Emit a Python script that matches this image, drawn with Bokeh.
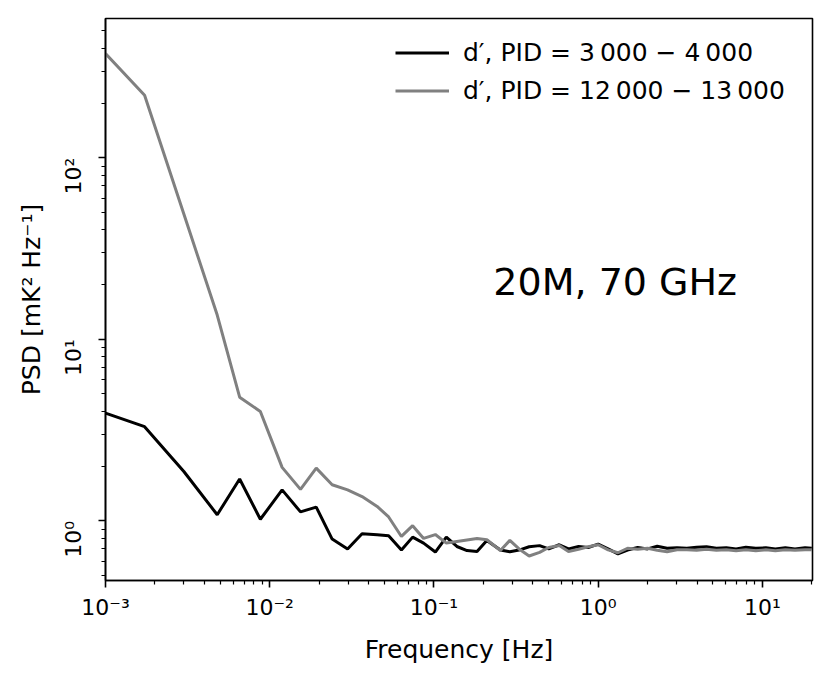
import math
from bokeh.plotting import figure
from bokeh.models import Range1d, FixedTicker, Legend, LegendItem, Label
from bokeh.embed import file_html
from bokeh.resources import INLINE

# ---- data ----
freq = [0.001, 0.00173, 0.0030, 0.00479, 0.00656, 0.00877, 0.0119, 0.0154, 0.0192, 0.024,
        0.0298, 0.0365, 0.0451, 0.0530, 0.0634, 0.0742, 0.0865, 0.102, 0.119, 0.138,
        0.159, 0.183, 0.210, 0.254, 0.29, 0.33, 0.38, 0.44, 0.50, 0.58,
        0.66, 0.76, 0.87, 1.0, 1.15, 1.32, 1.51, 1.74, 2.0, 2.29,
        2.63, 3.02, 3.47, 3.98, 4.57, 5.25, 6.03, 6.92, 7.94, 9.12,
        10.5, 12.0, 13.8, 15.8, 18.2, 20.0]

psd_3000_4000 = [3.92, 3.30, 1.87, 1.08, 1.70, 1.02, 1.48, 1.12, 1.19, 0.793,
                 0.70, 0.848, 0.838, 0.827, 0.69, 0.813, 0.754, 0.673, 0.813, 0.722,
                 0.686, 0.678, 0.779, 0.69, 0.675, 0.69, 0.72, 0.73, 0.70, 0.738,
                 0.70, 0.722, 0.713, 0.744, 0.70, 0.658, 0.69, 0.713, 0.70, 0.724,
                 0.706, 0.71, 0.706, 0.715, 0.719, 0.706, 0.71, 0.70, 0.715, 0.706,
                 0.71, 0.70, 0.71, 0.70, 0.71, 0.706]

psd_12000_13000 = [375.0, 221.0, 49.0, 13.6, 4.8, 4.0, 1.97, 1.49, 1.95, 1.58,
                   1.48, 1.36, 1.20, 1.05, 0.82, 0.94, 0.80, 0.84, 0.754, 0.77,
                   0.785, 0.80, 0.786, 0.686, 0.78, 0.70, 0.64, 0.67, 0.713, 0.731,
                   0.678, 0.697, 0.719, 0.738, 0.692, 0.667, 0.706, 0.697, 0.706, 0.688,
                   0.675, 0.692, 0.692, 0.688, 0.697, 0.688, 0.692, 0.684, 0.692, 0.684,
                   0.692, 0.684, 0.692, 0.688, 0.692, 0.692]

label_a = "d\u2032, PID = 3\u2009000 \u2212 4\u2009000"
label_b = "d\u2032, PID = 12\u2009000 \u2212 13\u2009000"
annotation = "20M, 70 GHz"

x_major = [0.001, 0.01, 0.1, 1, 10]
x_labels = ["10\u207b\u00b3", "10\u207b\u00b2", "10\u207b\u00b9", "10\u2070", "10\u00b9"]
y_major = [1, 10, 100]
y_labels = ["10\u2070", "10\u00b9", "10\u00b2"]

x_minor = [m * d for d in [0.001, 0.01, 0.1, 1, 10] for m in range(2, 10) if m * d <= 20.5]
y_minor = [m * d for d in [0.1, 1, 10, 100] for m in range(2, 10) if 0.46 <= m * d <= 590]

FONT = "DejaVu Sans"

p = figure(width=823, height=672, x_axis_type="log", y_axis_type="log",
           x_range=Range1d(0.001, 20.2), y_range=Range1d(0.469, 585),
           output_backend="svg", toolbar_location=None,
           min_border_left=105, min_border_right=11, min_border_top=18, min_border_bottom=92)

p.xgrid.visible = False
p.ygrid.visible = False
p.background_fill_color = "white"
p.border_fill_color = "white"
p.outline_line_color = "black"
p.outline_line_width = 1.6
p.outline_line_alpha = 1.0

r1 = p.line(freq, psd_3000_4000, line_color="black", line_width=3)
r2 = p.line(freq, psd_12000_13000, line_color="#808080", line_width=3)

p.xaxis.ticker = FixedTicker(ticks=x_major, minor_ticks=x_minor)
p.yaxis.ticker = FixedTicker(ticks=y_major, minor_ticks=y_minor)
p.xaxis.major_label_overrides = {k: v for k, v in zip(x_major, x_labels)}
p.yaxis.major_label_overrides = {k: v for k, v in zip(y_major, y_labels)}

for ax in (p.xaxis, p.yaxis):
    ax.axis_line_color = "black"
    ax.axis_line_width = 1.6
    ax.major_tick_line_color = "black"
    ax.major_tick_line_width = 1.6
    ax.minor_tick_line_color = "black"
    ax.minor_tick_line_width = 1.2
    ax.major_tick_in = 0
    ax.major_tick_out = 7
    ax.minor_tick_in = 0
    ax.minor_tick_out = 4
    ax.major_label_text_font = FONT
    ax.major_label_text_font_size = "22px"
    ax.major_label_text_color = "black"
    ax.axis_label_text_font = FONT
    ax.axis_label_text_font_size = "25px"
    ax.axis_label_text_font_style = "normal"
    ax.axis_label_text_color = "black"

p.xaxis.major_label_standoff = 7
p.yaxis.major_label_standoff = 25
p.xaxis.axis_label = "Frequency [Hz]"
p.yaxis.axis_label = "PSD [mK\u00b2 Hz\u207b\u00b9]"
p.yaxis.major_label_orientation = math.pi / 2
p.xaxis.axis_label_standoff = 12
p.yaxis.axis_label_standoff = 0

legend = Legend(items=[LegendItem(label=label_a, renderers=[r1]),
                       LegendItem(label=label_b, renderers=[r2])],
                location="top_right")
legend.border_line_color = None
legend.background_fill_alpha = 0
legend.label_text_font = FONT
legend.label_text_font_size = "25px"
legend.label_text_color = "black"
legend.glyph_width = 54
legend.glyph_height = 25
legend.label_height = 25
legend.label_width = 329
legend.label_standoff = 14
legend.spacing = 9
legend.margin = 20
legend.padding = 10
p.add_layout(legend)

p.add_layout(Label(x=0.230, y=20.7, text=annotation, text_font=FONT,
                   text_font_size="38px", text_color="black",
                   text_align="left", text_baseline="alphabetic"))

open("out.html", "w").write(file_html(p, INLINE))
